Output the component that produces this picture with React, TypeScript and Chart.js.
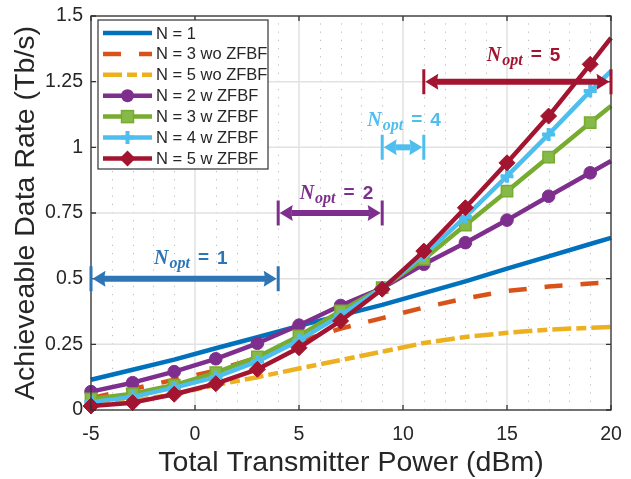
import React, { useEffect, useRef } from 'react';
import { Chart, registerables } from 'chart.js';

Chart.register(...registerables);

// ---------- data ----------
const X_POWER = [-5, -3, -1, 1, 3, 5, 7, 9, 11, 13, 15, 17, 19, 20];
const RATE_N1 = [0.115, 0.153, 0.192, 0.235, 0.277, 0.32, 0.36, 0.4, 0.445, 0.49, 0.538, 0.585, 0.632, 0.655];
const RATE_N3_WO = [0.045, 0.08, 0.115, 0.15, 0.2, 0.26, 0.31, 0.35, 0.39, 0.425, 0.453, 0.47, 0.482, 0.485];
const RATE_N5_WO = [0.02, 0.035, 0.06, 0.095, 0.125, 0.158, 0.19, 0.222, 0.255, 0.278, 0.294, 0.306, 0.313, 0.316];
const RATE_N2_ZF = [0.07, 0.104, 0.146, 0.195, 0.254, 0.323, 0.398, 0.464, 0.555, 0.637, 0.723, 0.814, 0.903, 0.948];
const RATE_N3_ZF = [0.042, 0.062, 0.095, 0.142, 0.202, 0.282, 0.377, 0.466, 0.574, 0.704, 0.833, 0.963, 1.094, 1.157];
const RATE_N4_ZF = [0.03, 0.05, 0.085, 0.125, 0.185, 0.265, 0.36, 0.465, 0.59, 0.735, 0.89, 1.049, 1.214, 1.29];
const RATE_N5_ZF = [0.015, 0.028, 0.06, 0.1, 0.155, 0.237, 0.339, 0.46, 0.605, 0.77, 0.941, 1.119, 1.316, 1.417];

const SERIES_LABELS = ['N = 1', 'N = 3 wo ZFBF', 'N = 5 wo ZFBF', 'N = 2 w ZFBF', 'N = 3 w ZFBF', 'N = 4 w ZFBF', 'N = 5 w ZFBF'];
const SERIES_VALUES = [RATE_N1, RATE_N3_WO, RATE_N5_WO, RATE_N2_ZF, RATE_N3_ZF, RATE_N4_ZF, RATE_N5_ZF];

const X_TICKS = [-5, 0, 5, 10, 15, 20];
const Y_TICKS = [0, 0.25, 0.5, 0.75, 1, 1.25, 1.5];
const Y_TICK_LABELS = ['0', '0.25', '0.5', '0.75', '1', '1.25', '1.5'];

// N_opt annotations (data coordinates)
const NOPT_VALUES = [1, 2, 4, 5];
const NOPT_FROM = [-5, 4, 9, 11];
const NOPT_TO = [4, 9, 11, 20];
const NOPT_ARROW_Y = [0.5, 0.75, 1.0, 1.25];
const NOPT_LABEL_X = [-0.2, 6.8, 10.05, 15.8];
const NOPT_LABEL_Y = [0.556, 0.803, 1.081, 1.328];

// ---------- styles ----------
const BLUE = '#0072BD';
const ORANGE = '#D95319';
const YELLOW = '#EDB120';
const PURPLE = '#7E2F8E';
const GREEN = '#77AC30';
const CYAN = '#4DBEEE';
const RED = '#A2142F';
const TEXT = '#262626';
const SANS = '"Liberation Sans", Arial, Helvetica, sans-serif';
const SERIF = '"Liberation Serif", "Times New Roman", serif';

type Marker = 'none' | 'circle' | 'square' | 'plus' | 'diamond';
const SERIES_STYLE: { color: string; dash: number[]; marker: Marker; fill?: string }[] = [
  { color: BLUE, dash: [], marker: 'none' },
  { color: ORANGE, dash: [18, 18], marker: 'none' },
  { color: YELLOW, dash: [19, 5, 10, 5], marker: 'none' },
  { color: PURPLE, dash: [], marker: 'circle' },
  { color: GREEN, dash: [], marker: 'square', fill: '#86B947' },
  { color: CYAN, dash: [], marker: 'plus' },
  { color: RED, dash: [], marker: 'diamond' },
];
const NOPT_COLORS = ['#2E75B6', PURPLE, CYAN, RED];
const LINE_W = 4.5;

function drawMarker(ctx: CanvasRenderingContext2D, m: Marker, x: number, y: number, color: string, fill?: string) {
  ctx.save();
  ctx.fillStyle = fill || color;
  ctx.strokeStyle = color;
  ctx.setLineDash([]);
  if (m === 'circle') {
    ctx.beginPath();
    ctx.arc(x, y, 6.5, 0, Math.PI * 2);
    ctx.fill();
  } else if (m === 'square') {
    ctx.lineWidth = 1.5;
    ctx.fillRect(x - 6, y - 6, 12, 12);
    ctx.strokeRect(x - 6, y - 6, 12, 12);
  } else if (m === 'plus') {
    ctx.lineWidth = 4;
    ctx.beginPath();
    ctx.moveTo(x - 6.5, y);
    ctx.lineTo(x + 6.5, y);
    ctx.moveTo(x, y - 6.5);
    ctx.lineTo(x, y + 6.5);
    ctx.stroke();
  } else if (m === 'diamond') {
    ctx.beginPath();
    ctx.moveTo(x, y - 8);
    ctx.lineTo(x + 8, y);
    ctx.lineTo(x, y + 8);
    ctx.lineTo(x - 8, y);
    ctx.closePath();
    ctx.fill();
  }
  ctx.restore();
}

const decorPlugin = {
  id: 'decor',
  beforeDatasetsDraw(chart: any) {
    const { ctx, chartArea: ca, scales } = chart;
    const xs = scales.x;
    const ys = scales.y;
    ctx.save();
    // minor vertical dotted grid
    ctx.strokeStyle = 'rgba(160,160,160,0.7)';
    ctx.lineWidth = 1;
    ctx.setLineDash([1.2, 7]);
    for (let v = -5; v <= 20; v++) {
      if (X_TICKS.includes(v)) continue;
      const px = Math.round(xs.getPixelForValue(v)) + 0.5;
      ctx.beginPath();
      ctx.moveTo(px, ca.bottom);
      ctx.lineTo(px, ca.top);
      ctx.stroke();
    }
    // major grid
    ctx.setLineDash([]);
    ctx.strokeStyle = '#E2E2E2';
    ctx.lineWidth = 1.5;
    X_TICKS.forEach((v) => {
      const px = xs.getPixelForValue(v);
      ctx.beginPath();
      ctx.moveTo(px, ca.top);
      ctx.lineTo(px, ca.bottom);
      ctx.stroke();
    });
    Y_TICKS.forEach((v) => {
      const py = ys.getPixelForValue(v);
      ctx.beginPath();
      ctx.moveTo(ca.left, py);
      ctx.lineTo(ca.right, py);
      ctx.stroke();
    });
    ctx.restore();
  },
  afterDatasetsDraw(chart: any) {
    const { ctx, chartArea: ca, scales } = chart;
    const xs = scales.x;
    const ys = scales.y;
    ctx.save();
    // box
    ctx.strokeStyle = '#333333';
    ctx.lineWidth = 1.3;
    ctx.strokeRect(ca.left, ca.top, ca.right - ca.left, ca.bottom - ca.top);
    // inward ticks
    ctx.beginPath();
    X_TICKS.forEach((v) => {
      const px = xs.getPixelForValue(v);
      ctx.moveTo(px, ca.bottom);
      ctx.lineTo(px, ca.bottom - 5);
      ctx.moveTo(px, ca.top);
      ctx.lineTo(px, ca.top + 5);
    });
    Y_TICKS.forEach((v) => {
      const py = ys.getPixelForValue(v);
      ctx.moveTo(ca.left, py);
      ctx.lineTo(ca.left + 5, py);
      ctx.moveTo(ca.right, py);
      ctx.lineTo(ca.right - 5, py);
    });
    ctx.stroke();

    // N_opt arrows
    NOPT_VALUES.forEach((n, i) => {
      const color = NOPT_COLORS[i];
      const x0 = xs.getPixelForValue(NOPT_FROM[i]);
      const x1 = xs.getPixelForValue(NOPT_TO[i]);
      const y = ys.getPixelForValue(NOPT_ARROW_Y[i]);
      ctx.strokeStyle = color;
      ctx.fillStyle = color;
      ctx.lineWidth = 3;
      ctx.beginPath();
      ctx.moveTo(x0, y - 12.5);
      ctx.lineTo(x0, y + 12.5);
      ctx.moveTo(x1, y - 12.5);
      ctx.lineTo(x1, y + 12.5);
      ctx.stroke();
      const head = 13;
      const hw = 8;
      ctx.lineWidth = 6;
      ctx.beginPath();
      ctx.moveTo(x0 + head, y);
      ctx.lineTo(x1 - head, y);
      ctx.stroke();
      ctx.beginPath();
      ctx.moveTo(x0 + 1.5, y);
      ctx.lineTo(x0 + 1.5 + head, y - hw);
      ctx.lineTo(x0 + head, y);
      ctx.lineTo(x0 + 1.5 + head, y + hw);
      ctx.closePath();
      ctx.fill();
      ctx.beginPath();
      ctx.moveTo(x1 - 1.5, y);
      ctx.lineTo(x1 - 1.5 - head, y - hw);
      ctx.lineTo(x1 - head, y);
      ctx.lineTo(x1 - 1.5 - head, y + hw);
      ctx.closePath();
      ctx.fill();

      // label  N_opt = n
      const fN = `italic bold 20px ${SERIF}`;
      const fSub = `italic bold 16px ${SERIF}`;
      const fEq = `bold 19px ${SANS}`;
      ctx.font = fN;
      const wN = ctx.measureText('N').width;
      ctx.font = fSub;
      const wSub = ctx.measureText('opt').width;
      ctx.font = fEq;
      const wEq = ctx.measureText('=').width;
      const wNum = ctx.measureText(String(n)).width;
      const gap = 8;
      const total = wN + 1 + wSub + gap + wEq + gap + wNum;
      let lx = xs.getPixelForValue(NOPT_LABEL_X[i]) - total / 2;
      const by = ys.getPixelForValue(NOPT_LABEL_Y[i]);
      ctx.textBaseline = 'alphabetic';
      ctx.textAlign = 'left';
      ctx.font = fN;
      ctx.fillText('N', lx, by);
      lx += wN + 1;
      ctx.font = fSub;
      ctx.fillText('opt', lx, by + 4);
      lx += wSub + gap;
      ctx.font = fEq;
      ctx.fillText('=', lx, by - 1);
      lx += wEq + gap;
      ctx.fillText(String(n), lx, by);
    });
    ctx.restore();
  },
  afterDraw(chart: any) {
    const { ctx, chartArea: ca } = chart;
    ctx.save();
    const bx = ca.left + 7;
    const by = ca.top + 4;
    const bw = 170;
    const bh = 149;
    ctx.fillStyle = '#FFFFFF';
    ctx.fillRect(bx, by, bw, bh);
    ctx.strokeStyle = '#333333';
    ctx.lineWidth = 1.2;
    ctx.strokeRect(bx, by, bw, bh);
    ctx.font = `16.5px ${SANS}`;
    ctx.textBaseline = 'middle';
    ctx.textAlign = 'left';
    SERIES_LABELS.forEach((label, i) => {
      const st = SERIES_STYLE[i];
      const y = by + 13 + i * 20.9;
      const lx0 = bx + 5;
      const lx1 = bx + 54;
      ctx.strokeStyle = st.color;
      ctx.lineWidth = LINE_W;
      ctx.setLineDash(st.dash);
      ctx.beginPath();
      ctx.moveTo(lx0, y);
      ctx.lineTo(lx1, y);
      ctx.stroke();
      ctx.setLineDash([]);
      if (st.marker !== 'none') drawMarker(ctx, st.marker, (lx0 + lx1) / 2, y, st.color, st.fill);
      ctx.fillStyle = TEXT;
      ctx.fillText(label, bx + 58, y + 1);
    });
    ctx.restore();
  },
};

export default function App() {
  const ref = useRef<HTMLCanvasElement | null>(null);
  useEffect(() => {
    if (!ref.current) return;
    const pointStyles: Record<string, any> = { circle: 'circle', square: 'rect', plus: 'cross', diamond: 'rectRot' };
    const pointRadii: Record<string, number> = { circle: 6.3, square: 8, plus: 6.5, diamond: 8 };
    const pointBorders: Record<string, number> = { circle: 1, square: 1.5, plus: 4, diamond: 1 };
    const datasets = SERIES_LABELS.map((label, i) => {
      const st = SERIES_STYLE[i];
      const hasMarker = st.marker !== 'none';
      return {
        label,
        data: X_POWER.map((x, j) => ({ x, y: SERIES_VALUES[i][j] })),
        borderColor: st.color,
        backgroundColor: st.fill || st.color,
        pointBackgroundColor: st.fill || st.color,
        pointBorderColor: st.color,
        borderWidth: LINE_W,
        borderDash: st.dash,
        borderJoinStyle: 'round' as const,
        tension: 0,
        fill: false,
        clip: false as any,
        order: SERIES_LABELS.length - i,
        pointStyle: hasMarker ? pointStyles[st.marker] : false,
        pointRadius: (c: any) => (hasMarker && X_POWER[c.dataIndex] % 2 !== 0 ? pointRadii[st.marker] : 0),
        pointBorderWidth: hasMarker ? pointBorders[st.marker] : 0,
        pointHoverRadius: 0,
      };
    });
    const chart = new Chart(ref.current, {
      type: 'line',
      data: { datasets: datasets as any },
      options: {
        animation: false,
        responsive: false,
        devicePixelRatio: 1,
        events: [],
        layout: { padding: { top: 16, right: 20, left: 0, bottom: 0 } },
        plugins: { legend: { display: false }, tooltip: { enabled: false } },
        scales: {
          x: {
            type: 'linear',
            min: -5,
            max: 20,
            afterFit: (s: any) => {
              s.height = 69;
              s.paddingLeft = 0;
              s.paddingRight = 0;
            },
            afterBuildTicks: (s: any) => {
              s.ticks = X_TICKS.map((v) => ({ value: v }));
            },
            ticks: { font: { size: 19.5, family: SANS }, color: TEXT, padding: 13, autoSkip: false, maxRotation: 0, callback: (v: any) => String(v) },
            grid: { display: false, drawTicks: false },
            border: { display: false },
            title: {
              display: true,
              text: 'Total Transmitter Power (dBm)',
              font: { size: 28.5, family: SANS },
              color: TEXT,
              padding: { top: 0, bottom: -1 },
            },
          },
          y: {
            type: 'linear',
            min: 0,
            max: 1.5,
            afterFit: (s: any) => {
              s.width = 91;
              s.paddingTop = 0;
              s.paddingBottom = 0;
            },
            afterBuildTicks: (s: any) => {
              s.ticks = Y_TICKS.map((v) => ({ value: v }));
            },
            ticks: {
              font: { size: 19.5, family: SANS },
              color: TEXT,
              padding: 8,
              autoSkip: false,
              callback: (v: any) => {
                const k = Y_TICKS.indexOf(Number(v));
                return k >= 0 ? Y_TICK_LABELS[k] : '';
              },
            },
            grid: { display: false, drawTicks: false },
            border: { display: false },
            title: {
              display: true,
              text: 'Achieveable Data Rate (Tb/s)',
              font: { size: 28.5, family: SANS },
              color: TEXT,
              padding: { top: 9, bottom: 0 },
            },
          },
        },
      },
      plugins: [decorPlugin],
    });
    return () => chart.destroy();
  }, []);
  return (
    <div style={{ position: 'fixed', left: 0, top: 0, width: 631, height: 479, background: '#fff' }}>
      <canvas ref={ref} width={631} height={479} style={{ display: 'block' }} />
    </div>
  );
}
